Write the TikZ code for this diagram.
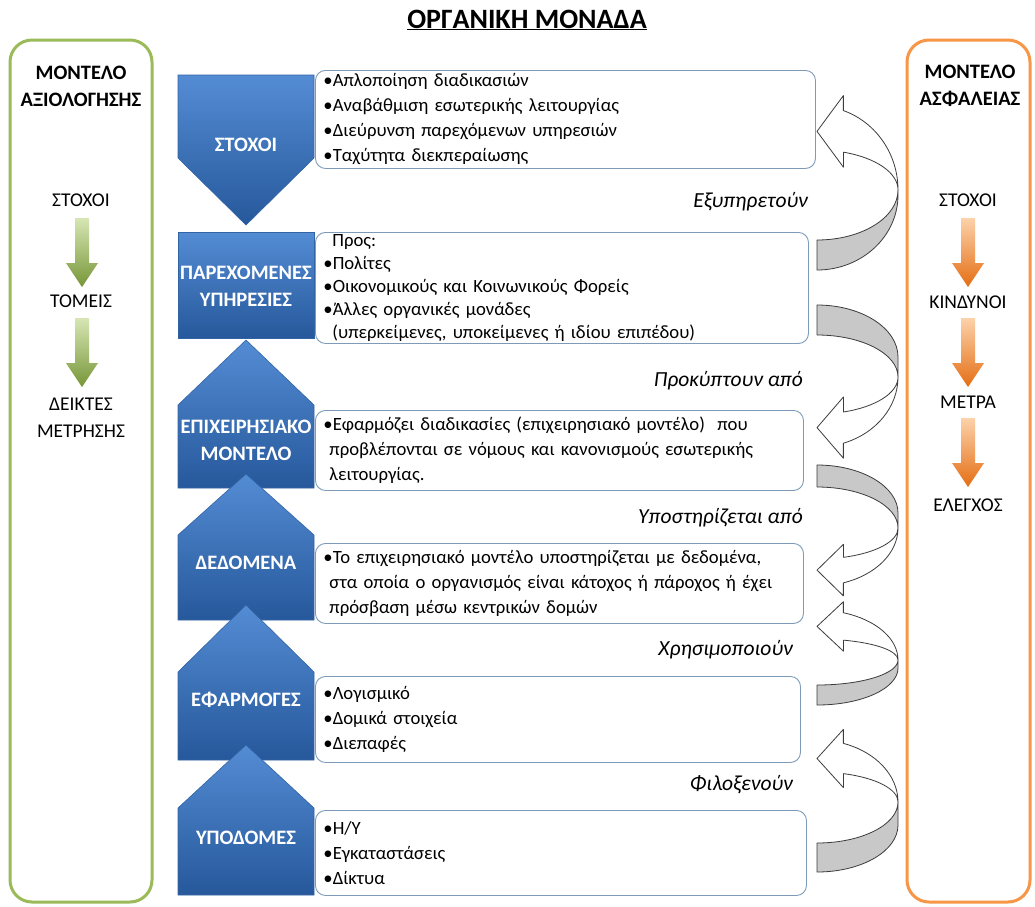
\documentclass[tikz,border=0pt]{standalone}
\usepackage{fontspec}
\setmainfont{Carlito}
\definecolor{blueTop}{RGB}{84,140,212}
\definecolor{blueBot}{RGB}{38,88,155}
\definecolor{blueEdge}{RGB}{50,100,165}
\definecolor{boxline}{RGB}{125,155,185}
\definecolor{grnframe}{RGB}{155,187,89}
\definecolor{orgframe}{RGB}{247,150,70}
\definecolor{grnTop}{RGB}{215,230,180}
\definecolor{grnBot}{RGB}{118,150,55}
\definecolor{orgTop}{RGB}{252,210,170}
\definecolor{orgBot}{RGB}{228,110,20}
\definecolor{ribgray}{RGB}{200,200,200}
\definecolor{ribline}{RGB}{60,60,60}
\tikzset{
  bluefill/.style={top color=blueTop, bottom color=blueBot, draw=blueEdge, line width=0.6pt},
  bluelbl/.style={text=white, font=\bfseries\fontsize{20.5}{27}\selectfont, align=center, inner sep=0pt},
  tbox/.style={draw=boxline, line width=0.9pt, rounded corners=10pt, fill=white, align=left,
     anchor=north west, inner xsep=8pt, inner ysep=0pt, font=\fontsize{18.7}{25}\selectfont},
  rellbl/.style={font=\itshape\fontsize{21.5}{24}\selectfont, anchor=east, inner sep=0pt},
  sidelbl/.style={font=\fontsize{19.5}{27}\selectfont, align=center, inner sep=0pt},
  sidehead/.style={font=\bfseries\fontsize{20.5}{27}\selectfont, align=center, inner sep=0pt},
  ribstyle/.style={draw=ribline, line width=0.8pt, line join=round},
  frame/.style={line width=3pt, rounded corners=22pt},
}
\newcommand\ribbonarrow[8]{% #1 dir, #2 yc, #3 a, #4 t, #5 g, #6 b, #7 ai, #8 h
  \begin{scope}[shift={(817,#2)},yscale=#1]
    \filldraw[ribstyle, fill=ribgray] (0,#3) arc[start angle=90,end angle=0,x radius=81,y radius=#3]
      -- (81,#5) arc[start angle=0,end angle=90,x radius=81,y radius={#3+#4-#5}] -- cycle;
    \filldraw[ribstyle, fill=white] (81,0) arc[start angle=0,end angle=-71,x radius=81,y radius=#6]
      -- ++(0,-#8) -- (0,{-0.473*(#6+#7)}) -- (26.4,{-0.946*#7+#8}) -- (26.4,{-0.946*#7})
      arc[start angle=-71,end angle=0,x radius=81,y radius=#7] -- cycle;
  \end{scope}}
\newcommand\blockdown[4]{% x center, top y, top color, bottom color
  \shade[top color=#3, bottom color=#4] (#1-7,#2) -- (#1+7,#2) -- (#1+7,#2+45) -- (#1+16,#2+45)
    -- (#1,#2+69) -- (#1-16,#2+45) -- (#1-7,#2+45) -- cycle;}
\begin{document}
\begin{tikzpicture}[x=1pt,y=-1pt]
\useasboundingbox (0,0) rectangle (1035,906);
\fill[white] (0,0) rectangle (1035,906);

% title
\node[font=\bfseries\fontsize{28}{30}\selectfont, inner sep=0pt] (title) at (527,20) {\underline{ΟΡΓΑΝΙΚΗ ΜΟΝΑΔΑ}};

% side frames
\draw[frame, draw=grnframe] (10,40) rectangle (152,902);
\draw[frame, draw=orgframe] (907,40) rectangle (1030,902);

% left column
\node[sidehead] (lh) at (81,86) {ΜΟΝΤΕΛΟ\\ΑΞΙΟΛΟΓΗΣΗΣ};
\node[sidelbl] (l1) at (81,200) {ΣΤΟΧΟΙ};
\node[sidelbl] (l2) at (81,301) {ΤΟΜΕΙΣ};
\node[sidelbl] (l3) at (81,418) {ΔΕΙΚΤΕΣ\\ΜΕΤΡΗΣΗΣ};
\blockdown{82}{218}{grnTop}{grnBot}
\blockdown{82}{318}{grnTop}{grnBot}

% right column
\node[sidehead] (rh) at (970,86) {ΜΟΝΤΕΛΟ\\ΑΣΦΑΛΕΙΑΣ};
\node[sidelbl] (r1) at (968,200) {ΣΤΟΧΟΙ};
\node[sidelbl] (r2) at (968,302) {ΚΙΝΔΥΝΟΙ};
\node[sidelbl] (r3) at (968,402) {ΜΕΤΡΑ};
\node[sidelbl] (r4) at (968,505) {ΕΛΕΓΧΟΣ};
\blockdown{968}{218}{orgTop}{orgBot}
\blockdown{968}{318}{orgTop}{orgBot}
\blockdown{968}{418}{orgTop}{orgBot}

% blue shapes
\path[bluefill] (178,75) -- (314,75) -- (314,158) -- (246,225) -- (178,158) -- cycle;
\path[bluefill] (178,232) rectangle (314,338);
\path[bluefill] (246,340) -- (314,405) -- (314,488) -- (178,488) -- (178,405) -- cycle;
\path[bluefill] (246,474) -- (314,535) -- (314,620) -- (178,620) -- (178,535) -- cycle;
\path[bluefill] (246,605) -- (314,672) -- (314,760) -- (178,760) -- (178,672) -- cycle;
\path[bluefill] (246,745) -- (314,808) -- (314,895) -- (178,895) -- (178,808) -- cycle;
\node[bluelbl] (s1) at (246,145) {ΣΤΟΧΟΙ};
\node[bluelbl] (s2) at (246,286) {ΠΑΡΕΧΟΜΕΝΕΣ\\ΥΠΗΡΕΣΙΕΣ};
\node[bluelbl] (s3) at (246,440) {ΕΠΙΧΕΙΡΗΣΙΑΚΟ\\ΜΟΝΤΕΛΟ};
\node[bluelbl] (s4) at (246,563) {ΔΕΔΟΜΕΝΑ};
\node[bluelbl] (s5) at (246,700) {ΕΦΑΡΜΟΓΕΣ};
\node[bluelbl] (s6) at (246,838) {ΥΠΟΔΟΜΕΣ};

% text boxes
\node[tbox, text width=484pt, minimum height=98pt] (b1) at (315,70)
  {•Απλοποίηση διαδικασιών\\•Αναβάθμιση εσωτερικής λειτουργίας\\•Διεύρυνση παρεχόμενων υπηρεσιών\\•Ταχύτητα διεκπεραίωσης};
\node[tbox, text width=477pt, minimum height=111pt, font=\fontsize{18.7}{23}\selectfont] (b2) at (315,232)
  {\hspace*{9pt}Προς:\\•Πολίτες\\•Οικονομικούς και Κοινωνικούς Φορείς\\•Άλλες οργανικές μονάδες\\\hspace*{9pt}(υπερκείμενες, υποκείμενες ή ιδίου επιπέδου)};
\node[tbox, text width=472pt, minimum height=80pt] (b3) at (315,410)
  {•Εφαρμόζει διαδικασίες (επιχειρησιακό μοντέλο)\ \ που\\\hspace*{6pt}προβλέπονται σε νόμους και κανονισμούς εσωτερικής\\\hspace*{6pt}λειτουργίας.};
\node[tbox, text width=472pt, minimum height=80pt] (b4) at (315,543)
  {•Το επιχειρησιακό μοντέλο υποστηρίζεται με δεδομένα,\\\hspace*{6pt}στα οποία ο οργανισμός είναι κάτοχος ή πάροχος ή έχει\\\hspace*{6pt}πρόσβαση μέσω κεντρικών δομών};
\node[tbox, text width=469pt, minimum height=86pt] (b5) at (315,676)
  {•Λογισμικό\\•Δομικά στοιχεία\\•Διεπαφές};
\node[tbox, text width=475pt, minimum height=85pt] (b6) at (315,810)
  {•Η/Υ\\•Εγκαταστάσεις\\•Δίκτυα};

% relation labels
\node[rellbl] (e1) at (808,202) {Εξυπηρετούν};
\node[rellbl] (e2) at (803,381) {Προκύπτουν από};
\node[rellbl] (e3) at (803,518) {Υποστηρίζεται από};
\node[rellbl] (e4) at (793,650) {Χρησιμοποιούν};
\node[rellbl] (e5) at (793,785) {Φιλοξενούν};

% curved ribbon arrows
\ribbonarrow{1}{190}{50}{30}{5}{84}{40}{15}
\ribbonarrow{-1}{377}{42}{30}{20}{70}{37}{15}
\ribbonarrow{-1}{528}{41}{22}{15}{58}{31}{13}
\ribbonarrow{1}{660}{25}{20}{8}{50}{21}{11}
\ribbonarrow{1}{802}{41}{29}{23}{62}{30}{14}
\end{tikzpicture}
\end{document}
